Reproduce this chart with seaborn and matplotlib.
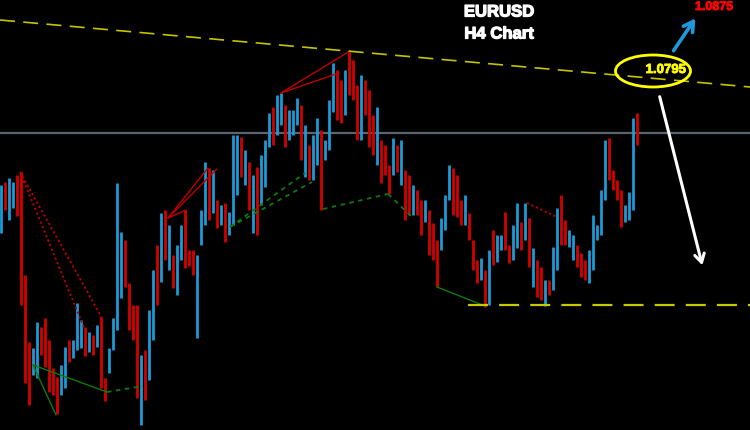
import matplotlib
matplotlib.use("Agg")
import matplotlib.pyplot as plt
import matplotlib.patheffects as pe
import seaborn as sns
import numpy as np
import pandas as pd
from matplotlib.patches import Ellipse

# ---------------- data (EURUSD H4 bars) ----------------
highs = [1.0680, 1.0683, 1.0687, 1.0683, 1.0690, 1.0693, 1.0590, 1.0523, 1.0517, 1.0543,
         1.0538, 1.0547, 1.0525, 1.0497, 1.0488, 1.0500, 1.0518, 1.0525, 1.0525, 1.0562,
         1.0545, 1.0538, 1.0533, 1.0530, 1.0540, 1.0548, 1.0487, 1.0517, 1.0547, 1.0682,
         1.0633, 1.0625, 1.0582, 1.0560, 1.0560, 1.0510, 1.0515, 1.0555, 1.0595, 1.0620,
         1.0652, 1.0655, 1.0640, 1.0610, 1.0620, 1.0640, 1.0655, 1.0615, 1.0615, 1.0610,
         1.0655, 1.0703, 1.0697, 1.0695, 1.0665, 1.0660, 1.0662, 1.0653, 1.0730, 1.0730,
         1.0728, 1.0715, 1.0703, 1.0690, 1.0698, 1.0710, 1.0725, 1.0752, 1.0758, 1.0770,
         1.0772, 1.0760, 1.0755, 1.0755, 1.0767, 1.0760, 1.0740, 1.0720, 1.0730, 1.0747,
         1.0735, 1.0725, 1.0765, 1.0802, 1.0795, 1.0785, 1.0795, 1.0813, 1.0805, 1.0780,
         1.0790, 1.0785, 1.0775, 1.0750, 1.0758, 1.0725, 1.0720, 1.0700, 1.0727, 1.0720,
         1.0725, 1.0695, 1.0690, 1.0680, 1.0675, 1.0665, 1.0665, 1.0655, 1.0642, 1.0625,
         1.0647, 1.0670, 1.0700, 1.0697, 1.0690, 1.0665, 1.0670, 1.0652, 1.0625, 1.0605,
         1.0607, 1.0595, 1.0615, 1.0635, 1.0630, 1.0630, 1.0653, 1.0620, 1.0640, 1.0662,
         1.0643, 1.0662, 1.0647, 1.0617, 1.0605, 1.0598, 1.0585, 1.0585, 1.0618, 1.0657,
         1.0670, 1.0645, 1.0635, 1.0630, 1.0620, 1.0612, 1.0605, 1.0615, 1.0650, 1.0640,
         1.0675, 1.0725, 1.0727, 1.0695, 1.0685, 1.0675, 1.0660, 1.0673, 1.0747, 1.0752]
lows = [1.0632, 1.0655, 1.0645, 1.0657, 1.0649, 1.0560, 1.0482, 1.0460, 1.0490, 1.0487,
        1.0510, 1.0498, 1.0473, 1.0470, 1.0451, 1.0470, 1.0477, 1.0503, 1.0507, 1.0515,
        1.0517, 1.0509, 1.0513, 1.0510, 1.0518, 1.0477, 1.0464, 1.0492, 1.0515, 1.0535,
        1.0567, 1.0578, 1.0535, 1.0525, 1.0467, 1.0440, 1.0465, 1.0485, 1.0525, 1.0560,
        1.0583, 1.0605, 1.0595, 1.0577, 1.0570, 1.0605, 1.0597, 1.0599, 1.0590, 1.0527,
        1.0620, 1.0640, 1.0645, 1.0652, 1.0637, 1.0640, 1.0623, 1.0630, 1.0640, 1.0670,
        1.0688, 1.0680, 1.0655, 1.0632, 1.0630, 1.0660, 1.0678, 1.0718, 1.0720, 1.0730,
        1.0740, 1.0718, 1.0725, 1.0730, 1.0740, 1.0705, 1.0688, 1.0685, 1.0685, 1.0700,
        1.0655, 1.0705, 1.0715, 1.0753, 1.0745, 1.0742, 1.0750, 1.0770, 1.0765, 1.0725,
        1.0725, 1.0750, 1.0718, 1.0710, 1.0700, 1.0682, 1.0690, 1.0671, 1.0690, 1.0693,
        1.0680, 1.0645, 1.0650, 1.0650, 1.0650, 1.0630, 1.0643, 1.0610, 1.0605, 1.0578,
        1.0615, 1.0635, 1.0665, 1.0650, 1.0648, 1.0640, 1.0640, 1.0625, 1.0595, 1.0582,
        1.0585, 1.0558, 1.0560, 1.0600, 1.0603, 1.0615, 1.0615, 1.0602, 1.0605, 1.0617,
        1.0615, 1.0625, 1.0598, 1.0578, 1.0568, 1.0565, 1.0559, 1.0570, 1.0575, 1.0595,
        1.0620, 1.0620, 1.0618, 1.0605, 1.0598, 1.0588, 1.0585, 1.0582, 1.0595, 1.0625,
        1.0630, 1.0665, 1.0685, 1.0675, 1.0665, 1.0638, 1.0643, 1.0645, 1.0655, 1.0720]
# b = bullish (blue) bar, r = bearish (red) bar
direction = list("brbbrrrrbb" "rrrrrbbrbb" "brbrbrrbbb" "brrrrbrbbr"
                 "brbrbbrrrb" "bbrbrbrbbb" "rbrbrbbbrb" "brbbbrbrbb"
                 "rbbbrrbrrr" "brrrbrrrbr" "brrbrrbrrr" "bbbrrrbrrr"
                 "brbrbbrrbb" "rbrbrrbrbb" "rrbbrrrbbb" "bbrrrrbbbr")

resistance_line = [1.0845, 1.0778]     # descending yellow trend line (start, end)
current_level = 1.0732                  # grey horizontal line
support_level = 1.0560                  # yellow dashed support
target_up, target_zone = "1.0875", "1.0795"

# pattern pivots (bar index, price)
red_dotted_1 = [[(4.75, 1.0693), (21.0, 1.0535)], [(4.75, 1.0693), (25.25, 1.0547)]]
red_solid_1 = [[(41.75, 1.0647), (51.75, 1.0697)], [(41.75, 1.0647), (54.0, 1.0696)],
               [(41.75, 1.0647), (46.25, 1.0655)]]
red_solid_2 = [[(70.0, 1.0772), (87.25, 1.0814)], [(70.0, 1.0772), (84.5, 1.0792)]]
red_dotted_2 = [[(131.5, 1.0662), (139.0, 1.0648)]]
green_solid = [[(8.0, 1.0500), (13.75, 1.0450)], [(8.0, 1.0500), (26.5, 1.0473)],
               [(109.0, 1.0578), (121.0, 1.0559)]]
green_dashed = [[(26.5, 1.0473), (35.5, 1.0479)], [(57.25, 1.0638), (76.0, 1.0692)],
                [(57.25, 1.0638), (77.75, 1.0683)], [(80.5, 1.0656), (96.75, 1.0671)],
                [(96.75, 1.0671), (103.0, 1.0647)]]

# ---------------- figure ----------------
sns.set_style("dark", {"axes.facecolor": "black", "figure.facecolor": "black"})
plt.rcParams['font.family'] = ['Liberation Sans', 'DejaVu Sans']

fig = plt.figure(figsize=(7.5, 4.3), dpi=100)
ax = fig.add_axes([0, 0, 1, 1])
ax.set_facecolor("black")

n = len(highs)
df = pd.DataFrame({"idx": np.arange(n), "high": highs, "low": lows, "dir": direction[:n]})
colors = {"b": "#1b9ad6", "r": "#d40000"}

XMIN, XMAX = -0.25, 187.25
YMIN, YMAX = 1.0435, 1.0865

# grey horizontal line
ax.axhline(current_level, color="#5d6670", lw=1.6, zorder=1)

# bars
for d, sub in df.groupby("dir"):
    ax.vlines(sub["idx"], sub["low"], sub["high"], color=colors[d], lw=2.0, zorder=2)

# pattern lines
def draw(segs, color, ls, lw):
    for seg in segs:
        seg_df = pd.DataFrame(seg, columns=["x", "y"])
        sns.lineplot(data=seg_df, x="x", y="y", ax=ax, color=color, lw=lw,
                     linestyle=ls, sort=False, estimator=None, zorder=3)

draw(red_dotted_1, "#c00000", (0, (1.2, 1.5)), 1.3)
draw(red_dotted_2, "#c00000", (0, (1.2, 1.5)), 1.3)
draw(red_solid_1, "#c00000", "-", 1.0)
draw(red_solid_2, "#c00000", "-", 1.0)
draw(green_solid, "#0e7a0e", "-", 1.0)
draw(green_dashed, "#0e7a0e", (0, (2.5, 2.5)), 1.3)

# resistance trend line
ax.plot([XMIN, XMAX], resistance_line, color="#c4c400", lw=1.2,
        dashes=(9, 5), zorder=3)
# support dashed line
ax.plot([116.75, XMAX], [support_level, support_level], color="#c8c800", lw=1.6,
        dashes=(9, 5), zorder=3)

# ellipse + label
ax.add_patch(Ellipse((163.0, 1.0794), 18.75, 0.0032, fill=False,
                     edgecolor="#ffff00", lw=2, zorder=4))
bold = lambda c, w: [pe.withStroke(linewidth=w, foreground=c)]
ax.text(166.25, 1.0795, target_zone, color="#ffff00", fontsize=9.5,
        fontweight="bold", ha="center", va="center", zorder=5,
        path_effects=bold("#ffff00", 0.6))

# titles
for txt, yy in [("EURUSD", 1.0853), ("H4 Chart", 1.0831)]:
    ax.text(124.5, yy, txt, color="white", fontsize=12, fontweight="bold",
            ha="center", va="center", path_effects=bold("white", 0.9))
ax.text(178.25, 1.0858, target_up, color="#ff0000", fontsize=9, fontweight="bold",
        ha="center", va="center", path_effects=bold("#ff0000", 0.6))

# arrows
ax.annotate("", xy=(174.0, 1.0849), xytext=(167.75, 1.0812),
            arrowprops=dict(arrowstyle="->,head_length=0.7,head_width=0.4",
                            color="#1e9ad8", lw=2.6))
ax.annotate("", xy=(175.5, 1.0597), xytext=(164.5, 1.0771),
            arrowprops=dict(arrowstyle="->,head_length=0.6,head_width=0.35",
                            color="white", lw=2.2))

ax.set_xlim(XMIN, XMAX)
ax.set_ylim(YMIN, YMAX)
ax.set_axis_off()
fig.savefig("out.png", dpi=100, facecolor="black")
